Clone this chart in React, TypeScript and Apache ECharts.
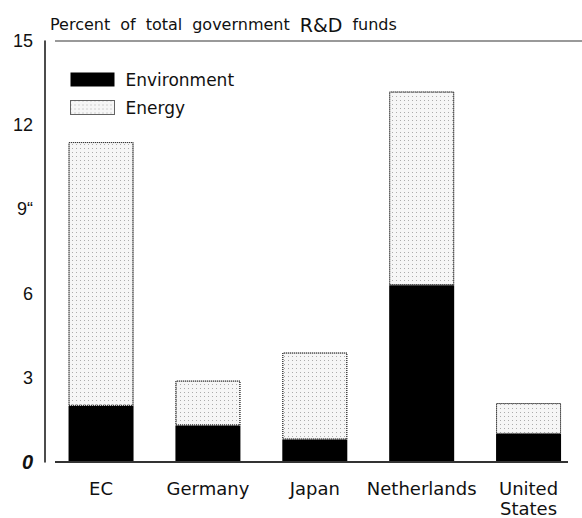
import React, { useEffect, useRef } from "react";
import * as echarts from "echarts";

const categories = ["EC", "Germany", "Japan", "Netherlands", "United\nStates"];
const environment = [2.0, 1.3, 0.8, 6.3, 1.0];
const energy = [9.4, 1.6, 3.1, 6.9, 1.1];
const yTickValues = [0, 3, 6, 9, 12, 15];
const yTickLabels = ["0", "3", "6", "9“", "12", "15"];
const seriesNames = ["Environment", "Energy"];
const titleText = "Percent of total government R&D funds";

const SANS = "'DejaVu Sans', sans-serif";
const LIB = "'Liberation Sans', Arial, sans-serif";

const energyDecal = {
  symbol: "rect",
  symbolSize: 1,
  color: "rgba(60,60,60,0.4)",
  dashArrayX: [1, 3],
  dashArrayY: [1, 3],
  rotation: 0,
};

export default function App() {
  const ref = useRef<HTMLDivElement>(null);
  useEffect(() => {
    if (!ref.current) return;
    const chart = echarts.init(ref.current, undefined, { renderer: "svg" });
    const words = titleText.split(" ");
    const titleRich = words
      .map((w) => (w === "R&D" ? "{r|" + w + "}" : "{a|" + w + "}"))
      .join("{s| }");
    chart.setOption({
      animation: false,
      backgroundColor: "#ffffff",
      title: {
        text: titleRich,
        left: 45,
        top: 10,
        textStyle: {
          fontWeight: "normal",
          rich: {
            a: { fontFamily: SANS, fontSize: 16, fontWeight: "normal", color: "#111" },
            r: { fontFamily: SANS, fontSize: 19, fontWeight: "normal", color: "#111" },
            s: { fontFamily: SANS, fontSize: 16, fontWeight: "normal", width: 10 },
          },
        },
      },
      legend: {
        orient: "vertical",
        left: 65,
        top: 66,
        itemWidth: 44,
        itemHeight: 14,
        itemGap: 11,
        icon: "rect",
        textStyle: {
          fontFamily: SANS,
          fontSize: 17,
          color: "#111",
          padding: [0, 0, 0, 6],
        },
        data: [
          { name: seriesNames[0], itemStyle: { color: "#000" } },
          {
            name: seriesNames[1],
            itemStyle: {
              color: "#f6f6f6",
              borderColor: "#333",
              borderWidth: 1,
              borderType: "dotted",
              decal: energyDecal,
            },
          },
        ],
      },
      grid: { left: 47.6, right: -1.4, top: 41, bottom: 55, containLabel: false },
      xAxis: {
        type: "category",
        data: categories,
        axisLine: { show: false },
        axisTick: { show: false },
        axisLabel: {
          margin: 16,
          fontFamily: SANS,
          fontSize: 18,
          color: "#111",
          lineHeight: 20,
          interval: 0,
        },
      },
      yAxis: {
        type: "value",
        min: 0,
        max: 15,
        interval: 3,
        offset: 2.6,
        axisLine: { show: true, lineStyle: { color: "#111", width: 1.5 } },
        axisTick: { show: false },
        splitLine: { show: false },
        axisLabel: {
          margin: 12,
          fontFamily: LIB,
          fontSize: 18,
          color: "#111",
          formatter: (v: number) => {
            const i = yTickValues.indexOf(v);
            if (v === 0) return "{z|" + yTickLabels[i] + "}";
            return i >= 0 ? yTickLabels[i] : "";
          },
          rich: {
            z: {
              fontFamily: LIB,
              fontSize: 20,
              fontStyle: "italic",
              fontWeight: "bold",
              color: "#111",
            },
          },
        },
      },
      series: [
        {
          name: seriesNames[0],
          type: "bar",
          stack: "total",
          data: environment,
          barWidth: 65,
          itemStyle: { color: "#000" },
        },
        {
          name: seriesNames[1],
          type: "bar",
          stack: "total",
          data: energy,
          barWidth: 65,
          itemStyle: {
            color: "#f6f6f6",
            borderColor: "#333",
            borderWidth: 1,
            borderType: "dotted",
            decal: energyDecal,
          },
        },
      ],
    });
    const y0 = chart.convertToPixel({ yAxisIndex: 0 }, 0) as number;
    const yTop = chart.convertToPixel({ yAxisIndex: 0 }, 15) as number;
    chart.setOption({
      graphic: [
        {
          type: "line",
          shape: { x1: 55, y1: yTop, x2: 582, y2: yTop },
          style: { stroke: "#777", lineWidth: 1.5 },
          z: 10,
        },
        {
          type: "line",
          shape: { x1: 55, y1: y0, x2: 568, y2: y0 },
          style: { stroke: "#333", lineWidth: 2 },
          z: 10,
        },
      ],
    });
    return () => chart.dispose();
  }, []);
  return (
    <div
      ref={ref}
      style={{ position: "fixed", left: 0, top: 0, width: 582, height: 518 }}
    />
  );
}
